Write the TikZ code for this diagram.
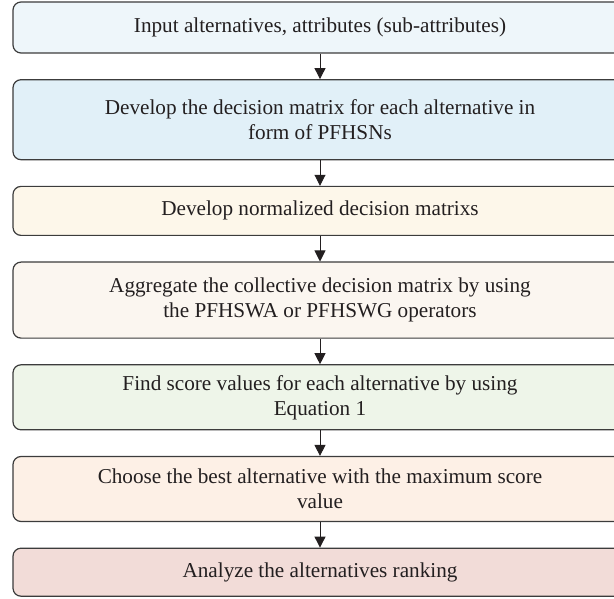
\documentclass[tikz,border=0pt]{standalone}
\usepackage{fontspec}
\setmainfont{Liberation Serif}
\usetikzlibrary{arrows.meta,positioning}
\definecolor{inkgray}{HTML}{231F20}
\definecolor{rimgray}{HTML}{3C3C3C}
\definecolor{inputfill}{HTML}{EEF6FA}
\definecolor{developfill}{HTML}{E1F0F8}
\definecolor{normalfill}{HTML}{FDF7EA}
\definecolor{aggrfill}{HTML}{FBF6F0}
\definecolor{scorefill}{HTML}{EEF5E9}
\definecolor{choosefill}{HTML}{FDF0E6}
\definecolor{rankfill}{HTML}{F2DCD8}

\begin{document}
\begin{tikzpicture}[x=1pt,y=1pt,node distance=25.5pt,
  font=\fontsize{21.2}{25}\selectfont,
  stage/.style={draw=rimgray,line width=1.2pt,rounded corners=8pt,text=inkgray,
    align=center,inner sep=0pt,minimum width=614pt,minimum height=#1},
  flow/.style={draw=inkgray,line width=0.9pt,-{Triangle[width=11pt,length=11pt]}}]
\useasboundingbox (0,0) rectangle (614,-599);
\clip (0,0) rectangle (614,-599);
% stages
\node[stage=51pt,fill=inputfill] (input) at (320,-27.5) {Input alternatives, attributes (sub-attributes)};
\node[stage=80pt,fill=developfill,below=of input] (develop) {Develop the decision matrix for each alternative in\\ form of PFHSNs};
\node[stage=49pt,fill=normalfill,below=of develop] (normal) {Develop normalized decision matrixs};
\node[stage=76pt,fill=aggrfill,below=of normal] (aggr) {Aggregate the collective decision matrix by using\\ the PFHSWA or PFHSWG operators};
\node[stage=65pt,fill=scorefill,below=of aggr] (score) {Find score values for each alternative by using\\ Equation 1};
\node[stage=65pt,fill=choosefill,below=of score] (choose) {Choose the best alternative with the maximum score\\ value};
\node[stage=48pt,fill=rankfill,below=of choose] (rank) {Analyze the alternatives ranking};
% arrows
\draw[flow] (input) -- (develop);
\draw[flow] (develop) -- (normal);
\draw[flow] (normal) -- (aggr);
\draw[flow] (aggr) -- (score);
\draw[flow] (score) -- (choose);
\draw[flow] (choose) -- (rank);
\end{tikzpicture}
\end{document}
